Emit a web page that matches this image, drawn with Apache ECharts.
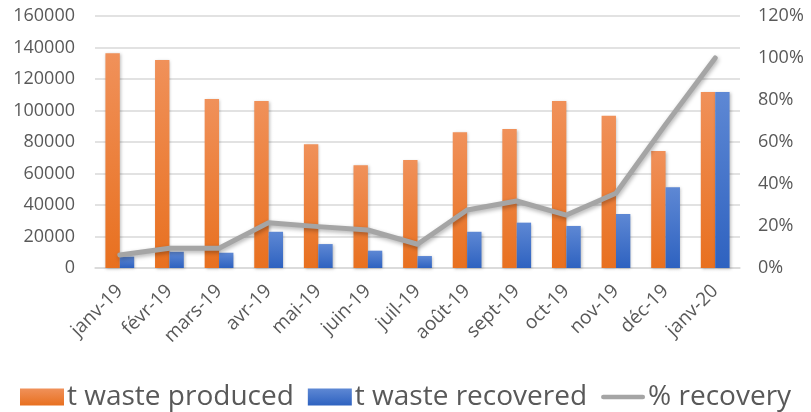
<!DOCTYPE html>
<html>
<head>
<meta charset="utf-8">
<script src="https://cdn.jsdelivr.net/npm/echarts@6/dist/echarts.min.js"></script>
<style>
html,body{margin:0;padding:0;background:#fff;}
#c{width:811px;height:412px;}
</style>
</head>
<body>
<div id="c"></div>
<script>
const categories = ['janv-19','févr-19','mars-19','avr-19','mai-19','juin-19','juil-19','août-19','sept-19','oct-19','nov-19','déc-19','janv-20'];
const wasteProduced = [136300, 132000, 107300, 106000, 78500, 65200, 68600, 86200, 88300, 106000, 96700, 74300, 111700];
const wasteRecovered = [7200, 10300, 9700, 23000, 15200, 11000, 7600, 23000, 28800, 26700, 34300, 51200, 111700];
const recoveryPct = [0.062, 0.094, 0.094, 0.216, 0.197, 0.181, 0.113, 0.276, 0.319, 0.252, 0.356, 0.684, 1.0];
const leftTicks = {min: 0, max: 160000, interval: 20000};
const rightTicks = {min: 0, max: 1.2, interval: 0.2};

const FONT = '"Open Sans", "Liberation Sans", sans-serif';
const TXT = '#595959';
const grad = (a, b) => new echarts.graphic.LinearGradient(0, 0, 0, 1, [{offset: 0, color: a}, {offset: 1, color: b}]);

const chart = echarts.init(document.getElementById('c'), null, {renderer: 'canvas'});
chart.setOption({
  animation: false,
  backgroundColor: '#fff',
  textStyle: {fontFamily: FONT, color: TXT},
  grid: {left: 95, right: 71, top: 16, bottom: 144, containLabel: false},
  legend: {
    left: 15, top: 378,
    itemWidth: 44, itemHeight: 17, itemGap: 14,
    symbolKeepAspect: true,
    textStyle: {fontFamily: FONT, fontSize: 28, color: TXT, padding: [0, 0, 0, -2]},
    data: [
      {name: 't waste produced', icon: 'rect'},
      {name: 't waste recovered', icon: 'rect'},
      {name: '% recovery', icon: 'path://M2.5,0 L46.5,0 A2.5,2.5 0 0 1 46.5,5 L2.5,5 A2.5,2.5 0 0 1 2.5,0 Z',
        itemStyle: {color: '#A5A5A5'}}
    ]
  },
  xAxis: {
    type: 'category',
    data: categories,
    axisTick: {show: false},
    axisLine: {lineStyle: {color: '#D9D9D9', width: 1.5}},
    axisLabel: {rotate: 45, fontFamily: FONT, fontSize: 19, color: TXT, margin: 20, interval: 0}
  },
  yAxis: [
    {
      type: 'value', min: leftTicks.min, max: leftTicks.max, interval: leftTicks.interval,
      axisLine: {show: false}, axisTick: {show: false},
      splitLine: {lineStyle: {color: '#D9D9D9', width: 1.5}},
      axisLabel: {fontFamily: FONT, fontSize: 18, color: TXT, margin: 20, formatter: v => String(v)}
    },
    {
      type: 'value', min: rightTicks.min, max: rightTicks.max, interval: rightTicks.interval,
      axisLine: {show: false}, axisTick: {show: false}, splitLine: {show: false},
      axisLabel: {fontFamily: FONT, fontSize: 18, color: TXT, margin: 18,
        formatter: v => Math.round(v * 100) + '%'}
    }
  ],
  series: [
    {
      name: 't waste produced', type: 'bar', data: wasteProduced,
      barGap: '0%', barCategoryGap: '42%',
      itemStyle: {color: grad('#F0915A', '#E8701F'), shadowColor: 'rgba(0,0,0,0.25)', shadowBlur: 3, shadowOffsetX: 1, shadowOffsetY: 1}
    },
    {
      name: 't waste recovered', type: 'bar', data: wasteRecovered,
      itemStyle: {color: grad('#5E88D4', '#2E62C0'), shadowColor: 'rgba(0,0,0,0.25)', shadowBlur: 3, shadowOffsetX: 1, shadowOffsetY: 1}
    },
    {
      name: '% recovery', type: 'line', yAxisIndex: 1, data: recoveryPct,
      symbol: 'none', showSymbol: false, z: 5,
      lineStyle: {color: '#A5A5A5', width: 5, cap: 'round', join: 'round',
        shadowColor: 'rgba(0,0,0,0.3)', shadowBlur: 4, shadowOffsetX: 1, shadowOffsetY: 2},
      itemStyle: {color: '#A5A5A5'}
    }
  ]
});
</script>
</body>
</html>
